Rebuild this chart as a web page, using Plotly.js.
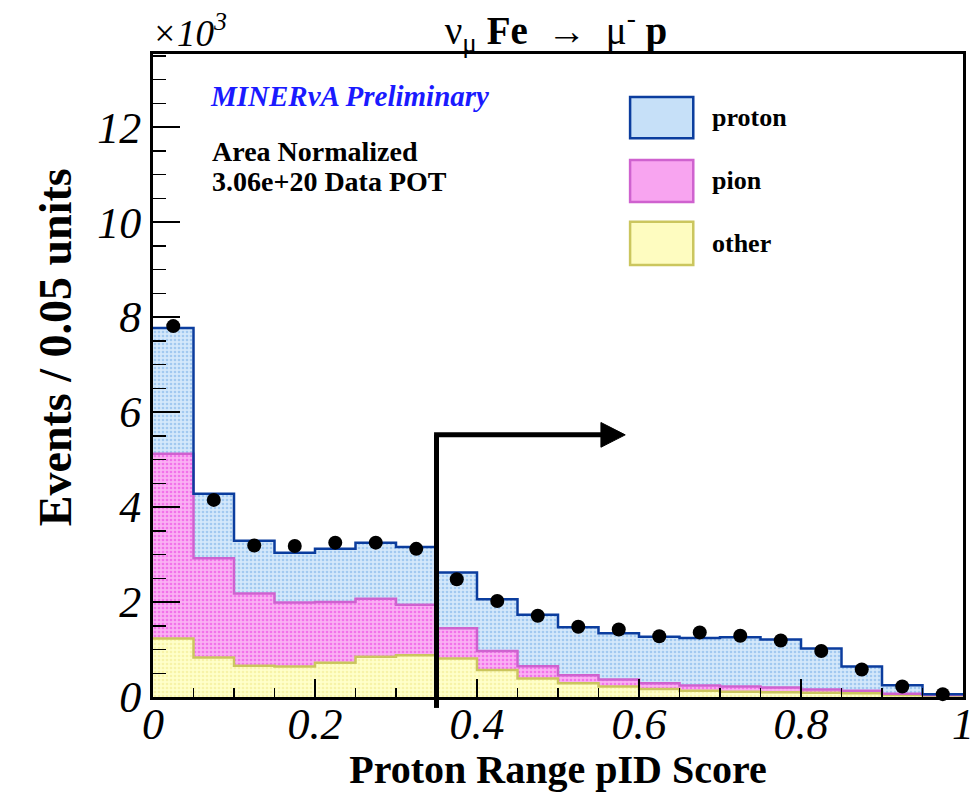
<!DOCTYPE html>
<html>
<head>
<meta charset="utf-8">
<script src="https://cdn.plot.ly/plotly-3.0.1.min.js"></script>
<style>body{margin:0;background:#fff;}</style>
</head>
<body>
<div id="chart" style="width:972px;height:792px;"></div>
<script>
// Bin edges of the proton range pID score (0.05 wide bins)
const binEdges = [0.00, 0.05, 0.10, 0.15, 0.20, 0.25, 0.30, 0.35, 0.40, 0.45, 0.50,
                  0.55, 0.60, 0.65, 0.70, 0.75, 0.80, 0.85, 0.90, 0.95, 1.00];

// Simulated events per bin, in units of 10^3, split by true particle
const otherCounts  = [1.23, 0.83, 0.66, 0.64, 0.72, 0.85, 0.88, 0.81, 0.57, 0.39,
                      0.29, 0.22, 0.17, 0.13, 0.11, 0.10, 0.09, 0.08, 0.04, 0.03];
const pionCounts   = [3.89, 2.09, 1.52, 1.35, 1.28, 1.22, 1.06, 0.64, 0.40, 0.26,
                      0.17, 0.15, 0.12, 0.11, 0.11, 0.10, 0.07, 0.05, 0.03, 0.01];
const protonCounts = [2.65, 1.36, 1.11, 1.05, 1.12, 1.18, 1.22, 1.17, 1.09, 1.08,
                      1.01, 0.97, 0.98, 1.00, 1.04, 1.01, 0.86, 0.51, 0.18, 0.02];

// Data, area normalized, in units of 10^3
const dataCounts   = [7.81, 4.15, 3.19, 3.18, 3.25, 3.25, 3.12, 2.48, 2.02, 1.71,
                      1.48, 1.42, 1.28, 1.36, 1.29, 1.19, 0.97, 0.58, 0.22, 0.06];

// Axis tick labels
const xTickVals  = [0, 0.2, 0.4, 0.6, 0.8, 1];
const xTickText  = ['0', '0.2', '0.4', '0.6', '0.8', '1'];
const yTickVals  = [0, 2, 4, 6, 8, 10, 12];
const yTickText  = ['0', '2', '4', '6', '8', '10', '12'];

const cutValue = 0.35;

const serif = 'Liberation Serif, Times New Roman, serif';
const colors = {
  other:  {line: '#cbc65e', fill: '#ffffca', dot: '#f7f3a8', legend: '#fefcc0'},
  pion:   {line: '#cf62cf', fill: '#fbb0f4', dot: '#f272ea', legend: '#f8a4f0'},
  proton: {line: '#0b3d9e', fill: '#d4e8fb', dot: '#a2c9f0', legend: '#c6e0f8'}
};

// cumulative stack: other at the bottom, then pion, then proton
const stackOrder = [['other', otherCounts], ['pion', pionCounts], ['proton', protonCounts]];
let running = otherCounts.map(() => 0);
const traces = [];
stackOrder.forEach(([name, vals], i) => {
  running = running.map((r, k) => r + vals[k]);
  const yStep = running.concat([running[running.length - 1]]);
  const c = colors[name];
  traces.push({
    type: 'scatter', mode: 'lines', name: name,
    x: binEdges, y: yStep,
    line: {shape: 'hv', color: c.line, width: 2.5},
    fill: i === 0 ? 'tozeroy' : 'tonexty',
    fillcolor: c.fill,
    fillpattern: {shape: '.', fgcolor: c.dot, bgcolor: c.fill, size: 4, solidity: 0.35},
    showlegend: false, hoverinfo: 'skip'
  });
});

const binCenters = dataCounts.map((_, k) => (binEdges[k] + binEdges[k + 1]) / 2);
traces.push({
  type: 'scatter', mode: 'markers', name: 'data',
  x: binCenters, y: dataCounts,
  marker: {color: '#000', size: 14},
  showlegend: false, cliponaxis: false
});

const yMax = 13.54;

// legend drawn as boxes + labels in the upper right
const legendRows = [
  {key: 'proton', y0: 0.869, y1: 0.933},
  {key: 'pion',   y0: 0.770, y1: 0.835},
  {key: 'other',  y0: 0.672, y1: 0.739}
];
const shapes = [];
const annotations = [];
legendRows.forEach(r => {
  const c = colors[r.key];
  shapes.push({type: 'rect', xref: 'paper', yref: 'paper',
    x0: 0.589, x1: 0.667, y0: r.y0, y1: r.y1,
    fillcolor: c.legend, line: {color: c.line, width: 2.5}});
  annotations.push({xref: 'paper', yref: 'paper', x: 0.688, y: (r.y0 + r.y1) / 2,
    xanchor: 'left', yanchor: 'middle', showarrow: false,
    text: '<b>' + r.key + '</b>', font: {family: serif, size: 26, color: '#000'}});
});

// selection arrow at the cut value
const arrowY = 5.52;
shapes.push({type: 'line', xref: 'x', yref: 'y', x0: cutValue, x1: cutValue, y0: 0, y1: arrowY,
  line: {color: '#000', width: 5}});
shapes.push({type: 'line', xref: 'x', yref: 'paper', x0: cutValue, x1: cutValue, y0: -0.017, y1: 0.01,
  line: {color: '#000', width: 5}});
shapes.push({type: 'line', xref: 'x', yref: 'y', x0: cutValue - 0.003, x1: 0.556, y0: arrowY, y1: arrowY,
  line: {color: '#000', width: 5}});
shapes.push({type: 'path', xref: 'x', yref: 'y',
  path: `M 0.553 ${arrowY + 0.26} L 0.583 ${arrowY} L 0.553 ${arrowY - 0.26} Z`,
  fillcolor: '#000', line: {color: '#000', width: 1}});

annotations.push(
  {xref: 'paper', yref: 'paper', x: -0.004, y: 0.997, xanchor: 'left', yanchor: 'bottom',
   showarrow: false, text: '×10<sup>3</sup>',
   font: {family: serif, size: 37, style: 'italic', color: '#000'}},
  {xref: 'paper', yref: 'paper', x: 0.068, y: 0.935, xanchor: 'left', yanchor: 'middle',
   showarrow: false, text: '<b>MINERνA Preliminary</b>',
   font: {family: serif, size: 29, style: 'italic', color: '#1a1aff'}},
  {xref: 'paper', yref: 'paper', x: 0.070, y: 0.849, xanchor: 'left', yanchor: 'middle',
   showarrow: false, text: '<b>Area Normalized</b>',
   font: {family: serif, size: 28, color: '#000'}},
  {xref: 'paper', yref: 'paper', x: 0.070, y: 0.802, xanchor: 'left', yanchor: 'middle',
   showarrow: false, text: '<b>3.06e+20 Data POT</b>',
   font: {family: serif, size: 28, color: '#000'}},
  {xref: 'paper', yref: 'paper', x: -0.121, y: 0.544, xanchor: 'center', yanchor: 'middle',
   textangle: -90, showarrow: false, text: '<b>Events / 0.05 units</b>',
   font: {family: serif, size: 46, color: '#000'}}
);

const layout = {
  width: 972, height: 792,
  margin: {l: 153, r: 9, t: 54, b: 95},
  paper_bgcolor: '#fff', plot_bgcolor: '#fff',
  showlegend: false,
  title: {
    text: 'ν<sub>μ</sub> <b>Fe</b>\u00a0\u00a0→\u00a0\u00a0μ<sup>-</sup> <b>p</b>',
    x: 0.572, xanchor: 'center', y: 0.962, yanchor: 'middle',
    font: {family: serif, size: 39, color: '#000'}
  },
  xaxis: {
    range: [0, 1], showgrid: false, zeroline: false,
    showline: true, linecolor: '#000', linewidth: 3, mirror: true,
    ticks: 'inside', ticklen: 18, tickwidth: 1.5, tickcolor: '#000',
    tickmode: 'array', tickvals: xTickVals, ticktext: xTickText,
    minor: {ticks: 'inside', ticklen: 9, dtick: 0.05, tick0: 0, tickcolor: '#000', tickwidth: 1.5},
    tickfont: {family: serif, size: 44, style: 'italic', color: '#000'},
    ticklabelstandoff: -14, ticklabeloverflow: 'allow',
    title: {text: '<b>Proton Range pID Score</b>', standoff: 14,
            font: {family: serif, size: 40, color: '#000'}}
  },
  yaxis: {
    range: [0, yMax], showgrid: false, zeroline: false,
    showline: true, linecolor: '#000', linewidth: 3, mirror: true,
    ticks: 'inside', ticklen: 27, tickwidth: 1.5, tickcolor: '#000',
    tickmode: 'array', tickvals: yTickVals, ticktext: yTickText,
    minor: {ticks: 'inside', ticklen: 13, dtick: 0.5, tick0: 0, tickcolor: '#000', tickwidth: 1.5},
    tickfont: {family: serif, size: 44, style: 'italic', color: '#000'},
    ticklabelstandoff: 0, ticklabeloverflow: 'allow'
  },
  shapes: shapes,
  annotations: annotations
};

Plotly.newPlot('chart', traces, layout, {staticPlot: true});
</script>
</body>
</html>
